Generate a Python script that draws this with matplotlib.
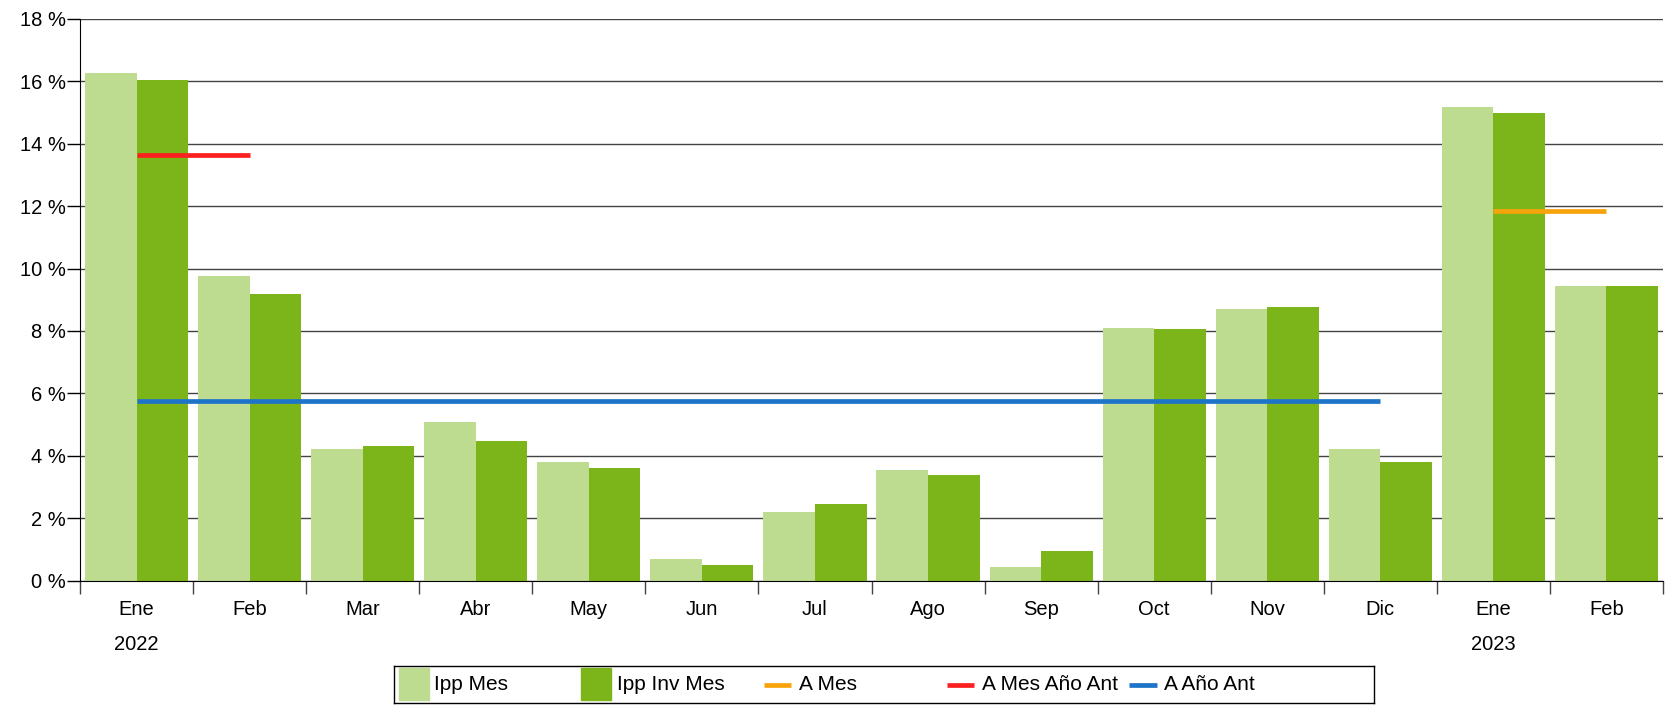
import matplotlib
matplotlib.use("Agg")
import matplotlib.pyplot as plt
from matplotlib.patches import Rectangle
from matplotlib.transforms import blended_transform_factory
import numpy as np

plt.rcParams["font.family"] = ["Liberation Sans", "DejaVu Sans"]

months = ["Ene", "Feb", "Mar", "Abr", "May", "Jun", "Jul", "Ago", "Sep",
          "Oct", "Nov", "Dic", "Ene", "Feb"]
years = {0: "2022", 12: "2023"}

ipp_mes = [16.28, 9.77, 4.22, 5.07, 3.81, 0.69, 2.20, 3.54, 0.43,
           8.09, 8.71, 4.23, 15.17, 9.44]
ipp_inv_mes = [16.03, 9.19, 4.31, 4.46, 3.62, 0.50, 2.45, 3.38, 0.95,
               8.06, 8.76, 3.79, 14.98, 9.44]

# reference lines: (value, first month index, last month index)
a_mes = (11.85, 12, 13)
a_mes_ano_ant = (13.65, 0, 1)
a_ano_ant = (5.75, 0, 11)

c_light = "#bedc90"
c_dark = "#7cb51a"
c_orange = "#f7a40c"
c_red = "#fc2020"
c_blue = "#1e74c8"

fig = plt.figure(figsize=(16.78, 7.05), dpi=100)
ax = fig.add_axes([80 / 1678, 1 - 580.5 / 705, (1663 - 80) / 1678, (580.5 - 19) / 705])

x = np.arange(len(months))
w = 0.456
ax.bar(x + 0.272, ipp_mes, width=w, color=c_light, zorder=2)
ax.bar(x + 0.728, ipp_inv_mes, width=w, color=c_dark, zorder=2)

def ref_line(spec, color):
    val, i0, i1 = spec
    ax.plot([i0 + 0.5, i1 + 0.5], [val, val], color=color, lw=3.4,
            solid_capstyle="butt", zorder=3)

ref_line(a_mes, c_orange)
ref_line(a_mes_ano_ant, c_red)
ref_line(a_ano_ant, c_blue)

ax.set_xlim(0, len(months))
ax.set_ylim(0, 18)
ax.set_yticks(np.arange(0, 19, 2))
ax.set_yticklabels([f"{v} %" for v in range(0, 19, 2)])
ax.yaxis.grid(True, color="#444444", lw=1.0, zorder=1)

ax.set_xticks(np.arange(0, len(months) + 1))
ax.set_xticklabels([])
ax.set_xticks(x + 0.5, minor=True)
ax.set_xticklabels(months, minor=True)
ax.tick_params(axis="x", which="major", length=9.4, width=1, color="#444444")
ax.tick_params(axis="x", which="minor", length=0, pad=14, labelsize=14.5)
ax.tick_params(axis="y", length=9.4, width=1, pad=1, labelsize=14.5)

for s in ["top", "right"]:
    ax.spines[s].set_visible(False)
ax.spines["left"].set_color("black")
ax.spines["bottom"].set_color("black")

tr = blended_transform_factory(ax.transData, fig.transFigure)
for i, yr in years.items():
    ax.text(i + 0.5, 1 - 645 / 705, yr, transform=tr, ha="center", va="center", fontsize=14.5)

# legend box, drawn by hand so the five columns are evenly spaced
lax = fig.add_axes([394 / 1678, 2 / 705, (1374 - 394) / 1678, 37 / 705])
lax.set_xlim(0, 1)
lax.set_ylim(0, 1)
lax.set_xticks([])
lax.set_yticks([])
for s in lax.spines.values():
    s.set_color("black")
    s.set_linewidth(1.0)

legend_items = [("Ipp Mes", c_light, "patch"), ("Ipp Inv Mes", c_dark, "patch"),
                ("A Mes", c_orange, "line"), ("A Mes Año Ant", c_red, "line"),
                ("A Año Ant", c_blue, "line")]
step = 0.1863
for k, (lab, col, kind) in enumerate(legend_items):
    x0 = 0.005 + k * step
    if kind == "patch":
        lax.add_patch(Rectangle((x0, 0.08), 0.0306, 0.86, color=col))
    else:
        lax.plot([x0, x0 + 0.028], [0.5, 0.5], color=col, lw=3.4, solid_capstyle="butt")
    lax.text(x0 + 0.036, 0.5, lab, ha="left", va="center", fontsize=15)

fig.savefig("out.png", dpi=100)
